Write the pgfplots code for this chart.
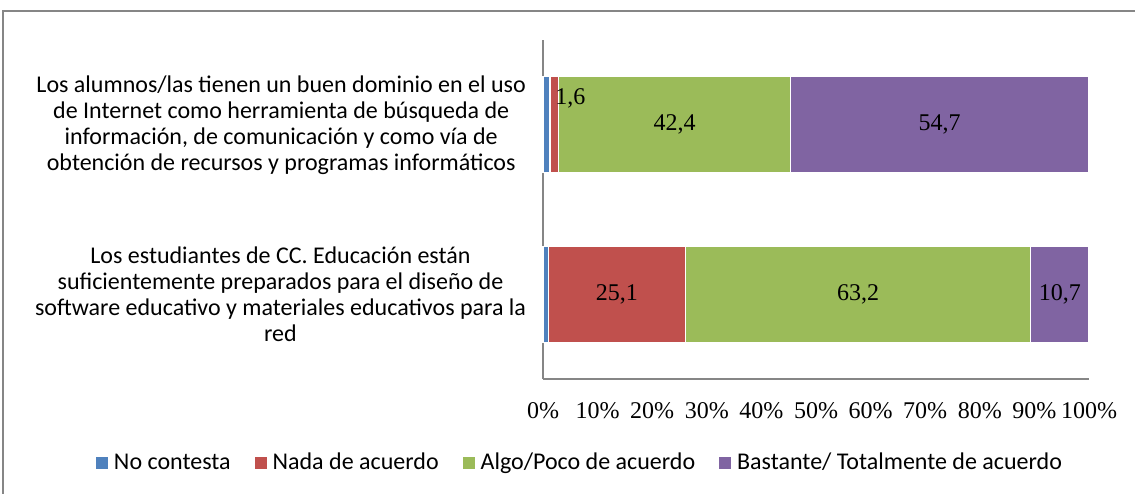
\documentclass[border=0pt]{standalone}
\usepackage{fontspec}
\setmainfont{Carlito}
\newfontfamily\tnr{Liberation Serif}
\usepackage{pgfplots}
\usepackage{pgfplotstable}
\pgfplotsset{compat=1.18}
\definecolor{cBlue}{HTML}{4F81BD}
\definecolor{cRed}{HTML}{C0504D}
\definecolor{cGreen}{HTML}{9BBB59}
\definecolor{cPurple}{HTML}{8064A2}
\definecolor{cAxis}{HTML}{868686}

\pgfplotstableread{
y nc nada algo bast ndx ndy
0 1.0 25.1 63.2 10.7 0 0
1 1.3 1.6 42.4 54.7 8 13
}\data

\pgfplotsset{
  sqlegend/.style={legend image code/.code={\fill[##1,draw=none] (0pt,-3pt) rectangle (6pt,3pt);}},
  vlabel/.style={
    point meta={\thisrow{#1}},
    nodes near coords={\tnr\fontsize{12}{14}\selectfont\pgfmathprintnumber[fixed,fixed zerofill,precision=1,use comma,assume math mode=true]{\pgfplotspointmeta}},
    every node near coord/.append style={anchor=center, text=black},
  },
}

\begin{document}
\begin{tikzpicture}
\useasboundingbox (0pt,0pt) rectangle (567.5pt,246.5pt);
\draw[cAxis, line width=0.8pt] (1.6pt,-5pt) -- (1.6pt,241pt) -- (575pt,241pt);
\begin{axis}[
  at={(271.5pt,57pt)}, anchor=south west,
  scale only axis, width=273pt, height=169.5pt,
  xbar stacked, bar width=48pt,
  xmin=0, xmax=100, ymin=-0.5, ymax=1.5,
  axis lines=left,
  axis line style={-, draw=cAxis, line width=0.7pt},
  major tick length=0pt,
  xtick={0,10,...,100},
  xticklabels={0\%,10\%,20\%,30\%,40\%,50\%,60\%,70\%,80\%,90\%,100\%},
  xticklabel style={font=\tnr\fontsize{12}{14}\selectfont, yshift=-8pt},
  ytick={0,1},
  yticklabels={{Los estudiantes de CC. Educación están\\suficientemente preparados para el diseño de\\software educativo y materiales educativos para la\\red},
               {Los alumnos/las tienen un buen dominio en el uso\\de Internet como herramienta de búsqueda de\\información, de comunicación y como vía de\\obtención de recursos y programas informáticos}},
  yticklabel style={align=center, font=\fontsize{12}{13}\selectfont, xshift=-5pt},
  legend columns=4,
  legend style={draw=none, at={(0.0696,-0.248)}, anchor=center,
    font=\fontsize{12}{14}\selectfont,
    /tikz/every odd column/.append style={column sep=1pt},
    /tikz/every even column/.append style={column sep=10pt}},
  clip=false,
]
\addplot[fill=cBlue, draw=white, line width=0.6pt, sqlegend] table[x=nc, y=y] {\data};
\addplot[fill=cRed, draw=white, line width=0.6pt, sqlegend, vlabel=nada,
  visualization depends on={\thisrow{ndx} \as \ndx},
  visualization depends on={\thisrow{ndy} \as \ndy},
  every node near coord/.append style={xshift={\ndx*1pt}, yshift={\ndy*1pt}}] table[x=nada, y=y] {\data};
\addplot[fill=cGreen, draw=white, line width=0.6pt, sqlegend, vlabel=algo] table[x=algo, y=y] {\data};
\addplot[fill=cPurple, draw=white, line width=0.6pt, sqlegend, vlabel=bast] table[x=bast, y=y] {\data};
\legend{No contesta, Nada de acuerdo, Algo/Poco de acuerdo, Bastante/ Totalmente de acuerdo}
\end{axis}
\end{tikzpicture}
\end{document}
